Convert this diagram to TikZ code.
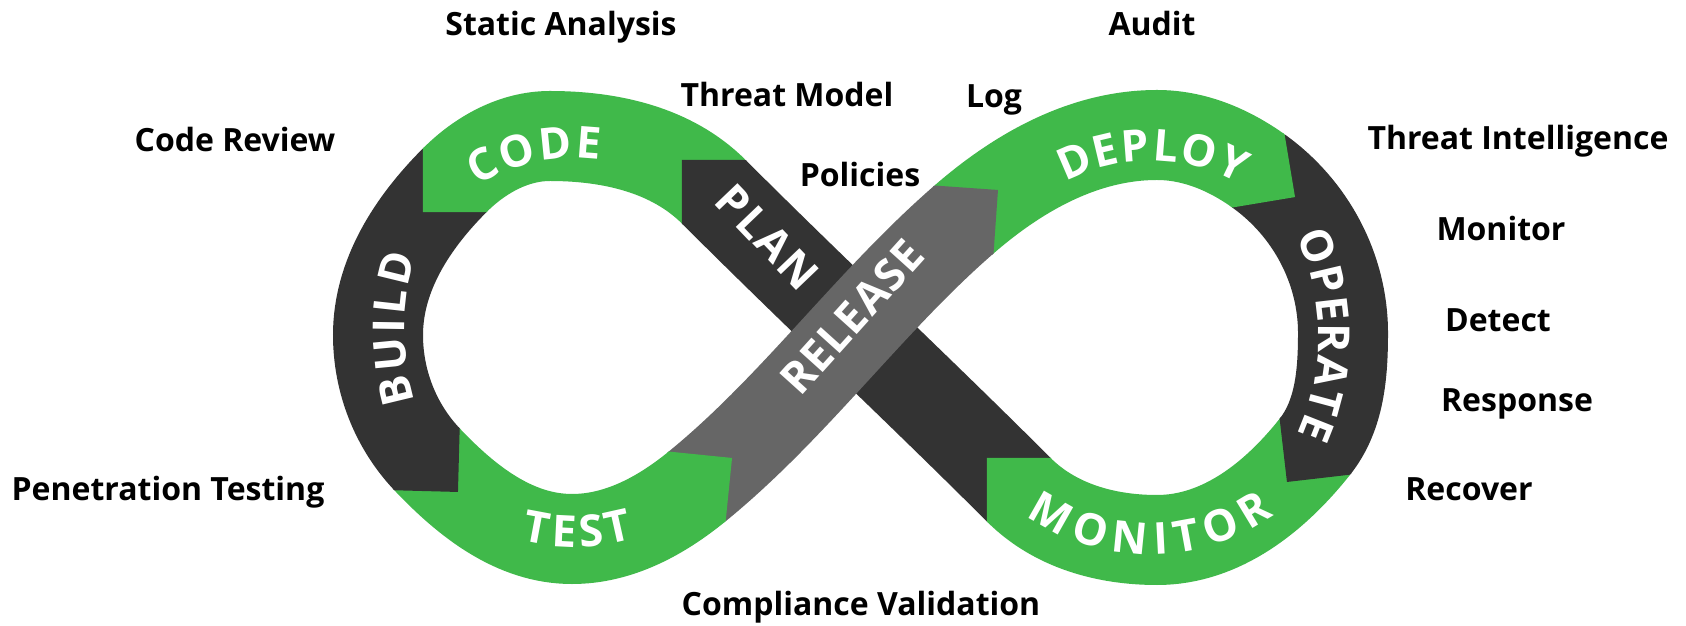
\documentclass[tikz,border=0pt]{standalone}
\usepackage{fontspec}
\setmainfont{Open Sans}
\usetikzlibrary{calc,decorations.text}
\definecolor{bandgreen}{RGB}{64,185,74}
\definecolor{banddark}{RGB}{51,51,51}
\definecolor{bandgray}{RGB}{102,102,102}
\newcommand\bandfont{\fontsize{22}{26}\selectfont\bfseries\color{white}}
% #1 coord, #2 #3 direction, #4 #5 normal, #6 colour
\newcommand\chevtip[6]{\fill[#6] ($(#1)+45*(#4,#5)-2*(#2,#3)$) -- ($(#1)+45*(#4,#5)$) -- ($(#1)+45*(#2,#3)$) -- ($(#1)-45*(#4,#5)$) -- ($(#1)-45*(#4,#5)-2*(#2,#3)$) -- cycle;}
\begin{document}
\begin{tikzpicture}[x=0.5pt,y=0.5pt,
  band/.style={line width=45pt},
  lbl/.style={font=\fontsize{16}{19}\selectfont\bfseries, anchor=base, inner sep=0pt},
  bandtext/.style={decorate, decoration={text along path, text align={fit to path}, text={|\bandfont|#1}}}]
\fill[white] (0,0) rectangle (1686,626);
\useasboundingbox (0,0) rectangle (1686,626);
% centre line of the band
\coordinate (M1) at (713.8,434.2);
\coordinate (TL) at (550,490);
\coordinate (M2) at (454.8,445.8);
\coordinate (L)  at (378,291);
\coordinate (M3) at (427,166.7);
\coordinate (BL) at (572,87);
\coordinate (M4) at (697.2,139.6);
\coordinate (M5) at (964,406.5);
\coordinate (TR) at (1157,491);
\coordinate (M6) at (1258.4,455.1);
\coordinate (R)  at (1343,293);
\coordinate (M7) at (1314.9,179.3);
\coordinate (BR) at (1157,86);
\coordinate (M8) at (1018.8,136.2);
% segments
\draw[band, bandgreen] (M1) .. controls (671.5,476.5) and (609.8,490) .. (TL) .. controls (513.9,490) and (480.3,471.3) .. (M2);
\draw[band, banddark] (M2) .. controls (412.5,403.5) and (378,350.8) .. (L) .. controls (378,244.9) and (395.3,200.2) .. (M3);
\draw[band, bandgreen] (M3) .. controls (466.6,124.9) and (514.4,87) .. (BL) .. controls (618.7,87) and (661.1,110.1) .. (M4);
\draw[band, bandgreen] (M5) .. controls (1018.8,454.1) and (1084.4,491) .. (TR) .. controls (1193.8,491) and (1228.4,476.5) .. (M6);
\draw[band, banddark] (M6) .. controls (1310.7,417.8) and (1343,357.2) .. (R) .. controls (1343,252.7) and (1339.9,210.9) .. (M7);
\draw[band, bandgreen] (M7) .. controls (1275,129) and (1221.2,86) .. (BR) .. controls (1106,86) and (1054.9,100.1) .. (M8);
\draw[band, banddark] (M8) .. controls (918.3,236.7) and (814.3,333.7) .. (M1);
\draw[band, bandgray] (M4) .. controls (794.6,219.1) and (869,324) .. (M5);
% arrow tips
\chevtip{M1}{-0.707}{0.707}{-0.707}{-0.707}{banddark}
\chevtip{M2}{-0.707}{-0.707}{0.707}{-0.707}{bandgreen}
\chevtip{M3}{0.688}{-0.726}{0.726}{0.688}{banddark}
\chevtip{M4}{0.774}{0.632}{-0.632}{0.774}{bandgreen}
\chevtip{M5}{0.755}{0.656}{-0.656}{0.755}{bandgray}
\chevtip{M6}{0.814}{-0.581}{0.581}{0.814}{bandgreen}
\chevtip{M7}{-0.621}{-0.784}{0.784}{-0.621}{banddark}
\chevtip{M8}{-0.707}{0.707}{-0.707}{-0.707}{bandgreen}
% band labels
\path[bandtext=CODE] ($(574,295)+(123.5:173.5)$) arc[start angle=123.5, end angle=81.5, radius=173.5];
\path[bandtext=BUILD] ($(650,296)+(197:245.5)$) arc[start angle=197, end angle=162.5, radius=245.5];
\path[bandtext=TEST] ($(574,295)+(256:216)$) arc[start angle=256, end angle=286, radius=216];
\path[bandtext=DEPLOY] ($(1150,288)+(118.5:177.5)$) arc[start angle=118.5, end angle=60, radius=177.5];
\path[bandtext=OPERATE] ($(1085,289)+(25.6:233.5)$) arc[start angle=25.6, end angle=-24.6, radius=233.5];
\path[bandtext=MONITOR] ($(1150,288)+(235:216.5)$) arc[start angle=235, end angle=305, radius=216.5];
\path[bandtext=PLAN] (712.2,423.8) -- (799.8,332.2);
\path[bandtext=RELEASE] (800,228) -- (927,369);
% outer labels
\node[lbl] (static) at (561,590.5) {Static Analysis};
\node[lbl] (audit) at (1152,590.5) {Audit};
\node[lbl] (threatmodel) at (787,519.5) {Threat Model};
\node[lbl] (log) at (994,518.5) {Log};
\node[lbl] (codereview) at (235,474.5) {Code Review};
\node[lbl] (threatintel) at (1518,476.5) {Threat Intelligence};
\node[lbl] (policies) at (860,439.5) {Policies};
\node[lbl] (monitor) at (1501,385.5) {Monitor};
\node[lbl] (detect) at (1498,294.5) {Detect};
\node[lbl] (response) at (1517,214.5) {Response};
\node[lbl] (recover) at (1469,125.5) {Recover};
\node[lbl] (pentest) at (168,125.5) {Penetration Testing};
\node[lbl] (compliance) at (861,10.5) {Compliance Validation};
\end{tikzpicture}
\end{document}
